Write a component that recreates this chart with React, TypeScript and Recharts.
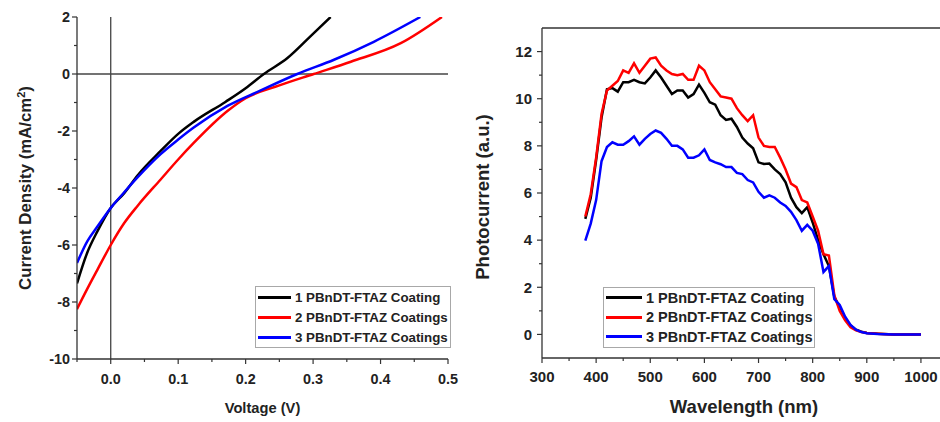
import React from 'react';
import { LineChart, Line, XAxis, YAxis, ReferenceLine, Legend, Label } from 'recharts';

const FONT = '"Liberation Sans", Arial, Helvetica, sans-serif';
const AXIS = '#333333';

// series names / colours (shared by both panels)
const seriesNames = ['1 PBnDT-FTAZ Coating', '2 PBnDT-FTAZ Coatings', '3 PBnDT-FTAZ Coatings'];
const seriesColors = ['#000000', '#ff0000', '#0000ff'];

// J-V curves (voltage in V, current density in mA/cm2)
const voltage1 = [-0.05, -0.035, -0.02, 0, 0.02, 0.04, 0.074, 0.1, 0.123, 0.17, 0.2, 0.227, 0.262, 0.296, 0.326];
const current1 = [-7.35, -6.28, -5.53, -4.7, -4.18, -3.55, -2.7, -2.1, -1.68, -0.98, -0.5, 0, 0.56, 1.32, 2.0];
const voltage2 = [-0.05, -0.035, -0.02, 0, 0.02, 0.04, 0.074, 0.1, 0.123, 0.173, 0.2, 0.25, 0.301, 0.356, 0.43, 0.491];
const current2 = [-8.25, -7.55, -6.88, -6.0, -5.23, -4.62, -3.7, -3.0, -2.42, -1.3, -0.85, -0.4, 0, 0.43, 1.08, 2.0];
const voltage3 = [-0.05, -0.035, -0.02, 0, 0.02, 0.04, 0.074, 0.1, 0.123, 0.173, 0.22, 0.2765, 0.331, 0.39, 0.459];
const current3 = [-6.63, -5.88, -5.36, -4.7, -4.15, -3.62, -2.81, -2.3, -1.88, -1.12, -0.6, 0, 0.5, 1.13, 2.0];

const voltageTicks = [-0.05, 0, 0.05, 0.1, 0.15, 0.2, 0.25, 0.3, 0.35, 0.4, 0.45, 0.5];
const currentTicks = [-10, -9, -8, -7, -6, -5, -4, -3, -2, -1, 0, 1, 2];

// photocurrent spectra
const wavelength = [
  380, 390, 400, 410, 420, 430, 440, 450, 460, 470, 480, 490, 500, 510, 520, 530, 540, 550, 560, 570,
  580, 590, 600, 610, 620, 630, 640, 650, 660, 670, 680, 690, 700, 710, 720, 730, 740, 750, 760, 770,
  780, 790, 800, 810, 820, 830, 840, 850, 860, 870, 880, 890, 900, 920, 950, 1000,
];
const photo1 = [
  4.9, 5.8, 7.4, 9.2, 10.4, 10.45, 10.3, 10.7, 10.7, 10.8, 10.7, 10.65, 10.9, 11.2, 10.9, 10.55, 10.2, 10.35, 10.35, 10.05,
  10.2, 10.6, 10.25, 9.85, 9.75, 9.3, 9.1, 9.15, 8.8, 8.35, 8.1, 7.9, 7.3, 7.23, 7.25, 7.0, 6.8, 6.45, 5.8, 5.4,
  5.15, 5.4, 4.75, 4.0, 3.4, 2.9, 1.6, 1.15, 0.65, 0.38, 0.2, 0.12, 0.06, 0.03, 0, 0,
];
const photo2 = [
  5.0, 5.95, 7.5, 9.35, 10.35, 10.55, 10.75, 11.2, 11.1, 11.5, 11.1, 11.4, 11.7, 11.75, 11.4, 11.2, 11.05, 11.0, 11.05, 10.8,
  10.8, 11.4, 11.2, 10.7, 10.4, 10.1, 10.05, 10.0, 9.6, 9.3, 9.05, 9.3, 8.35, 8.0, 7.95, 7.95, 7.5, 7.0, 6.4, 6.25,
  5.7, 5.6, 5.0, 4.4, 3.4, 3.35, 1.65, 1.0, 0.6, 0.3, 0.17, 0.1, 0.06, 0.03, 0, 0,
];
const photo3 = [
  3.98, 4.7, 5.7, 7.35, 7.95, 8.15, 8.05, 8.05, 8.2, 8.4, 8.05, 8.3, 8.5, 8.65, 8.55, 8.3, 8.0, 8.0, 7.85, 7.5,
  7.5, 7.6, 7.85, 7.4, 7.3, 7.22, 7.1, 7.1, 6.85, 6.8, 6.55, 6.45, 6.05, 5.8, 5.9, 5.8, 5.6, 5.45, 5.2, 4.85,
  4.4, 4.65, 4.4, 3.85, 2.65, 2.9, 1.5, 1.25, 0.75, 0.4, 0.2, 0.1, 0.05, 0.02, 0, 0,
];

const wavelengthTicks = [300, 350, 400, 450, 500, 550, 600, 650, 700, 750, 800, 850, 900, 950, 1000];
const photoTicks = [0, 1, 2, 3, 4, 5, 6, 7, 8, 9, 10, 11, 12];

const jvSeries = [
  voltage1.map((v, i) => ({ v, j: current1[i] })),
  voltage2.map((v, i) => ({ v, j: current2[i] })),
  voltage3.map((v, i) => ({ v, j: current3[i] })),
];
const spectrum = wavelength.map((w, i) => ({ w, p1: photo1[i], p2: photo2[i], p3: photo3[i] }));

// tick renderers with major/minor marks (axis has tickSize 0, so x/y sit on the axis line)
function bottomTick(isMajor: (v: number) => boolean, fmt: (v: number) => string, fontSize: number, gap: number) {
  return (props: any) => {
    const { x, y, payload } = props;
    const major = isMajor(payload.value);
    return (
      <g>
        <line x1={x} x2={x} y1={y} y2={y + (major ? 5 : 3)} stroke={AXIS} strokeWidth={1.2} />
        {major && (
          <text x={x} y={y + gap} dy="0.35em" textAnchor="middle" fontFamily={FONT} fontWeight="bold" fontSize={fontSize} fill="#222">
            {fmt(payload.value)}
          </text>
        )}
      </g>
    );
  };
}

function leftTick(isMajor: (v: number) => boolean, fontSize: number, gap: number) {
  return (props: any) => {
    const { x, y, payload } = props;
    const major = isMajor(payload.value);
    return (
      <g>
        <line x1={x} x2={x - (major ? 5 : 3)} y1={y} y2={y} stroke={AXIS} strokeWidth={1.2} />
        {major && (
          <text x={x - gap} y={y} dy="0.35em" textAnchor="end" fontFamily={FONT} fontWeight="bold" fontSize={fontSize} fill="#222">
            {payload.value}
          </text>
        )}
      </g>
    );
  };
}

function LegendBox({ fontSize, sample, rowHeight }: { fontSize: number; sample: number; rowHeight: number }) {
  return (
    <div style={{ border: '1px solid #a8a8a8', background: '#fff', padding: '0 2px', fontFamily: FONT }}>
      {seriesNames.map((name, i) => (
        <div key={name} style={{ display: 'flex', alignItems: 'center', height: rowHeight, whiteSpace: 'nowrap' }}>
          <span style={{ display: 'inline-block', width: sample, height: 3, background: seriesColors[i], marginRight: 4 }} />
          <span style={{ fontWeight: 'bold', fontSize, color: '#222' }}>{name}</span>
        </div>
      ))}
    </div>
  );
}

function JVChart() {
  return (
    <LineChart width={470} height={422} margin={{ top: 17, right: 22, bottom: 33, left: 17 }}>
      <XAxis
        dataKey="v"
        type="number"
        domain={[-0.05, 0.5]}
        ticks={voltageTicks}
        interval={0}
        tickSize={0}
        tickMargin={0}
        tickLine={false}
        axisLine={{ stroke: AXIS, strokeWidth: 1.3 }}
        tick={bottomTick((v) => Math.round(v * 100) % 10 === 0, (v) => v.toFixed(1), 14.4, 20)}
        allowDataOverflow
      >
        <Label
          content={(p: any) => (
            <text x={p.viewBox.x + p.viewBox.width / 2} y={p.viewBox.y + 49} dy="0.35em" textAnchor="middle" fontFamily={FONT} fontWeight="bold" fontSize={14.7} fill="#222">
              Voltage (V)
            </text>
          )}
        />
      </XAxis>
      <YAxis
        type="number"
        domain={[-10, 2]}
        ticks={currentTicks}
        interval={0}
        width={60}
        tickSize={0}
        tickMargin={0}
        tickLine={false}
        axisLine={{ stroke: AXIS, strokeWidth: 1.3 }}
        tick={leftTick((v) => v % 2 === 0, 14.4, 7)}
        allowDataOverflow
      >
        <Label
          content={(p: any) => {
            const cx = 25;
            const cy = p.viewBox.y + p.viewBox.height / 2;
            return (
              <text x={cx} y={cy} dy="0.35em" textAnchor="middle" transform={`rotate(-90, ${cx}, ${cy})`} fontFamily={FONT} fontWeight="bold" fontSize={16.8} fill="#222">
                Current Density (mA/cm
                <tspan dy={-6} fontSize={11}>2</tspan>
                <tspan dy={6}>)</tspan>
              </text>
            );
          }}
        />
      </YAxis>
      <ReferenceLine x={0} stroke="#444" strokeWidth={1.3} />
      <ReferenceLine y={0} stroke="#444" strokeWidth={1.3} />
      {jvSeries.map((d, i) => (
        <Line
          key={seriesNames[i]}
          data={d}
          dataKey="j"
          name={seriesNames[i]}
          type="monotone"
          stroke={seriesColors[i]}
          strokeWidth={2.5}
          dot={false}
          isAnimationActive={false}
        />
      ))}
      <Legend
        layout="horizontal"
        verticalAlign="middle"
        align="center"
        wrapperStyle={{ left: 255, top: 286, width: 'auto' }}
        content={() => <LegendBox fontSize={13.3} sample={33} rowHeight={20} />}
      />
    </LineChart>
  );
}

function SpectrumChart() {
  const keys = ['p1', 'p2', 'p3'];
  return (
    <LineChart width={480} height={422} data={spectrum} margin={{ top: 28, right: 2, bottom: 34, left: 12 }}>
      <XAxis
        dataKey="w"
        type="number"
        domain={[300, 1050]}
        ticks={wavelengthTicks}
        interval={0}
        tickSize={0}
        tickMargin={0}
        tickLine={false}
        axisLine={{ stroke: AXIS, strokeWidth: 1.3 }}
        tick={bottomTick((v) => v % 100 === 0, (v) => String(v), 15, 19)}
        allowDataOverflow
      >
        <Label
          content={(p: any) => (
            <text x={p.viewBox.x + p.viewBox.width / 2 - 1} y={p.viewBox.y + 49} dy="0.35em" textAnchor="middle" fontFamily={FONT} fontWeight="bold" fontSize={18.5} fill="#222">
              Wavelength (nm)
            </text>
          )}
        />
      </XAxis>
      <YAxis
        type="number"
        domain={[-1, 13]}
        ticks={photoTicks}
        interval={0}
        width={60}
        tickSize={0}
        tickMargin={0}
        tickLine={false}
        axisLine={{ stroke: AXIS, strokeWidth: 1.3 }}
        tick={leftTick((v) => v % 2 === 0, 15, 10)}
        allowDataOverflow
      >
        <Label
          content={(p: any) => {
            const cx = 13;
            const cy = 197;
            return (
              <text x={cx} y={cy} dy="0.35em" textAnchor="middle" transform={`rotate(-90, ${cx}, ${cy})`} fontFamily={FONT} fontWeight="bold" fontSize={18.5} fill="#222">
                Photocurrent (a.u.)
              </text>
            );
          }}
        />
      </YAxis>
      <ReferenceLine y={13} stroke={AXIS} strokeWidth={1.3} />
      {keys.map((k, i) => (
        <Line
          key={k}
          dataKey={k}
          name={seriesNames[i]}
          type="linear"
          stroke={seriesColors[i]}
          strokeWidth={2.5}
          dot={false}
          isAnimationActive={false}
        />
      ))}
      <Legend
        layout="horizontal"
        verticalAlign="middle"
        align="center"
        wrapperStyle={{ left: 133, top: 287, width: 'auto' }}
        content={() => <LegendBox fontSize={14.5} sample={36} rowHeight={19.5} />}
      />
    </LineChart>
  );
}

export default function App() {
  return (
    <div style={{ position: 'absolute', left: 0, top: 0, width: 940, height: 422, overflow: 'hidden', background: '#fff' }}>
      <div style={{ position: 'absolute', left: 0, top: 0 }}>
        <JVChart />
      </div>
      <div style={{ position: 'absolute', left: 470, top: 0 }}>
        <SpectrumChart />
      </div>
    </div>
  );
}
